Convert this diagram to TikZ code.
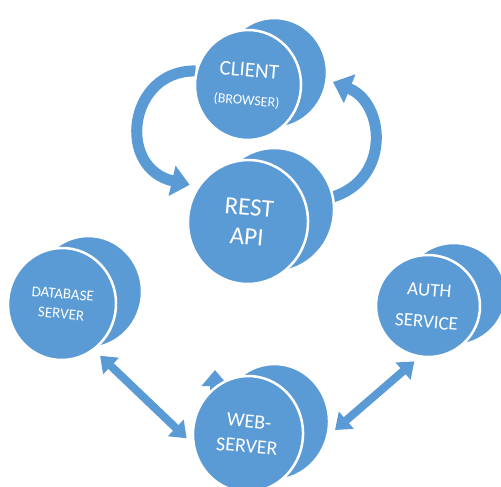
\documentclass[tikz,border=0pt]{standalone}
\usepackage{fontspec}
\setmainfont{Carlito}
\usetikzlibrary{positioning, calc, shapes.geometric, shadows, arrows.meta}
\definecolor{discblue}{RGB}{91,155,213}
\pgfdeclarelayer{back}
\pgfsetlayers{back,main}

\begin{document}
\begin{tikzpicture}[
    x=1pt, y=-1pt,
    disc/.style={
      ellipse, fill=discblue, draw=white, line width=2.5pt, text=white,
      align=center, inner sep=0pt, rotate=-5,
      copy shadow={shadow xshift=26pt, shadow yshift=12pt, fill=discblue, draw=white}
    },
    bent/.style={
      draw=discblue, line width=11pt, -{Triangle[width=30pt,length=18pt]}
    },
    both/.style={
      draw=discblue, line width=8pt,
      {Triangle[width=22pt,length=15pt]}-{Triangle[width=22pt,length=15pt]}
    },
  ]
    \useasboundingbox (0,0) rectangle (501,487);

    % discs
    \node [disc, minimum width=106pt, minimum height=110pt, font=\fontsize{21}{25}\selectfont] (client) at (248,85) {CLIENT\\[3.5pt]{\fontsize{14}{16}\selectfont (BROWSER)}};
    \node [disc, minimum width=120pt, minimum height=124pt, font=\fontsize{25}{29}\selectfont] (rest) at (248,222) {REST\\API};
    \node [disc, minimum width=108pt, minimum height=112pt, font=\fontsize{15}{20}\selectfont] (database) at (62,304) {DATABASE\\SERVER};
    \node [disc, minimum width=104pt, minimum height=102pt, font=\fontsize{19}{32}\selectfont] (auth) at (428,306) {AUTH\\SERVICE};
    \node [disc, minimum width=110pt, minimum height=116pt, font=\fontsize{20}{25}\selectfont] (web) at (248,434) {WEB-\\SERVER};

    % free ends
    \coordinate (client rim) at (333,82);
    \coordinate (web rim) at (335,430);
    \coordinate (web tip) at (215,370);

    % curved arrows, behind the discs
    \begin{pgfonlayer}{back}
      \draw [bent, shorten >=8pt] (client.170) .. controls (128,70) and (116,168) .. (rest.150);
      \draw [bent] (rest.25) .. controls (392,200) and (390,105) .. (client rim);
      \draw [bent, line width=10pt, -{Triangle[width=26pt,length=16pt]}] (web tip |- web.center) -- (web tip);
    \end{pgfonlayer}

    % straight arrows
    \draw [both, shorten <=8pt, shorten >=8pt] (database.-50) -- (web.195);
    \draw [both, shorten >=6pt] (web rim) -- (auth.-95);

  \end{tikzpicture}
\end{document}
